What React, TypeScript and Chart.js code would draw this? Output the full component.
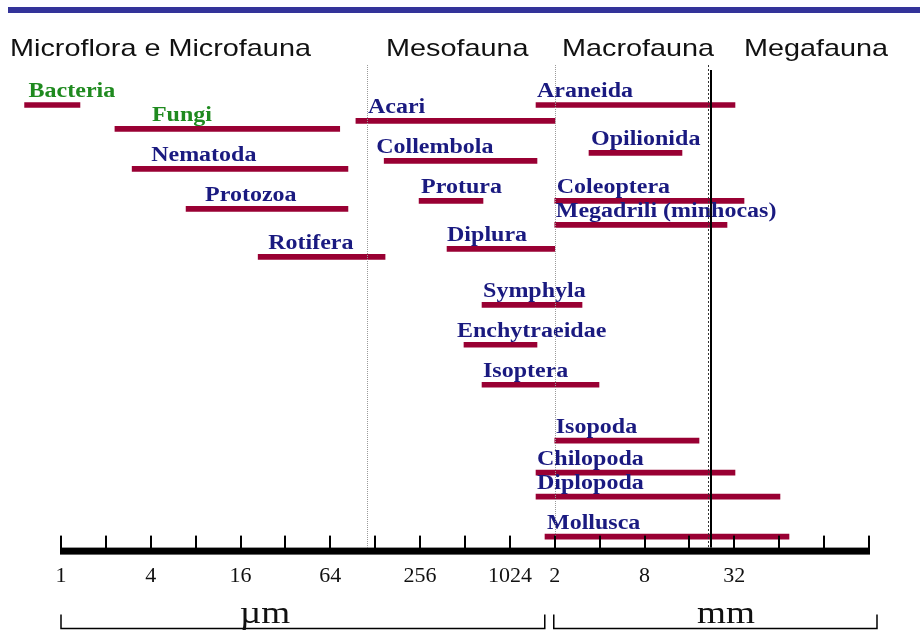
import React, { useEffect, useRef } from 'react';
import { Chart, registerables } from 'chart.js';

Chart.register(...registerables);

// ---------- data ----------
const ORGANISMS = [
  'Bacteria', 'Fungi', 'Nematoda', 'Protozoa', 'Rotifera',
  'Acari', 'Collembola', 'Protura', 'Diplura',
  'Araneida', 'Opilionida', 'Coleoptera', 'Megadrili (minhocas)',
  'Symphyla', 'Enchytraeidae', 'Isoptera',
  'Isopoda', 'Chilopoda', 'Diplopoda', 'Mollusca',
];
// body width range, in µm
const MIN_UM = [0.57, 2.3, 3.0, 6.9, 21, 95, 147, 252, 388, 1533, 3474, 2048, 2048, 666, 504, 666, 2048, 1533, 1533, 1761];
const MAX_UM = [1.34, 74, 84, 84, 149, 2055, 1556, 676, 2048, 33100, 14600, 38050, 29260, 3119, 1556, 4053, 18990, 33100, 66300, 76200];
// vertical slot of each bar (0 = top)
const ROWS = [5, 8, 13, 18, 24, 7, 12, 17, 23, 5, 11, 17, 20, 30, 35, 40, 47, 51, 54, 59];

const ZONE_NAMES = ['Microflora e Microfauna', 'Mesofauna', 'Macrofauna', 'Megafauna'];
const ZONE_LIMITS_UM = [112, 2048, 21800];
const MEGA_LIMIT_UM = 22800;

const TICK_VALUES = [1, 4, 16, 64, 256, 1024, 2048, 8192, 32768];
const TICK_LABELS = ['1', '4', '16', '64', '256', '1024', '2', '8', '32'];
const AXIS_MARKS = [1, 2, 4, 8, 16, 32, 64, 128, 256, 512, 1024, 2048, 4096, 8192, 16384, 32768, 65536, 131072, 262144];
const UNIT_LABELS = ['µm', 'mm'];

// ---------- layout / style ----------
const LABEL_DX = [4, 37, 19, 19, 10, 12, -8, 2, 0, 1, 2, 2, 1, 1, -7, 1, 1, 1, 1, 2];
const GREEN = '#1f8a1f';
const NAVY = '#1a1a80';
const LABEL_COLORS = ORGANISMS.map((_, i) => (i < 2 ? GREEN : NAVY));
const BAR_COLOR = '#990033';
const HEADER_X = [10, 386, 562, 744];
const UNIT_X = [265, 726];
const STRETCH = 1.2;

function stretchedText(
  ctx: CanvasRenderingContext2D,
  text: string,
  x: number,
  y: number,
  font: string,
  color: string,
  align: 'left' | 'center' = 'left',
  sx: number = STRETCH
) {
  ctx.save();
  ctx.font = font;
  ctx.fillStyle = color;
  ctx.textBaseline = 'alphabetic';
  ctx.textAlign = 'left';
  ctx.translate(x, y);
  ctx.scale(sx, 1);
  let dx = 0;
  if (align === 'center') dx = -ctx.measureText(text).width / 2;
  ctx.fillText(text, dx, 0);
  ctx.restore();
}

const decorPlugin = {
  id: 'decor',
  afterDatasetsDraw(chart: any) {
    const ctx: CanvasRenderingContext2D = chart.ctx;
    const meta = chart.getDatasetMeta(0);
    meta.data.forEach((el: any, i: number) => {
      const left = Math.min(el.base, el.x);
      stretchedText(ctx, ORGANISMS[i], left + LABEL_DX[i], el.y - 8, 'bold 20px "Liberation Serif"', LABEL_COLORS[i]);
    });

    const xs = chart.scales.x;
    const { top, bottom } = chart.chartArea;
    const axisTop = bottom - 3;
    ZONE_LIMITS_UM.forEach((v, k) => {
      const px = Math.round(xs.getPixelForValue(v)) + 0.5;
      ctx.save();
      ctx.strokeStyle = k === 2 ? '#333333' : '#9a9a9a';
      ctx.lineWidth = 1;
      ctx.setLineDash(k === 2 ? [2, 2] : [1, 1]);
      ctx.beginPath();
      ctx.moveTo(px, top);
      ctx.lineTo(px, axisTop);
      ctx.stroke();
      ctx.restore();
    });
    const mx = Math.round(xs.getPixelForValue(MEGA_LIMIT_UM));
    ctx.save();
    ctx.fillStyle = '#000';
    ctx.fillRect(mx - 1, top + 5, 2, axisTop - top - 5);
    ctx.restore();
  },
  afterDraw(chart: any) {
    const ctx: CanvasRenderingContext2D = chart.ctx;
    const xs = chart.scales.x;
    const { bottom } = chart.chartArea;

    // top rule
    ctx.save();
    ctx.fillStyle = '#333399';
    ctx.fillRect(8, 7, 912, 6);
    ctx.restore();

    // zone headers
    ZONE_NAMES.forEach((name, k) => {
      stretchedText(ctx, name, HEADER_X[k], 56, '24px "Liberation Sans"', '#111');
    });

    // axis bar
    const x0 = xs.getPixelForValue(AXIS_MARKS[0]);
    const x1 = xs.getPixelForValue(AXIS_MARKS[AXIS_MARKS.length - 1]);
    ctx.save();
    ctx.fillStyle = '#000';
    ctx.fillRect(x0 - 1, bottom - 3, x1 - x0 + 2, 7);
    AXIS_MARKS.forEach((v) => {
      const px = Math.round(xs.getPixelForValue(v));
      ctx.fillRect(px - 1, bottom - 15, 2, 13);
    });

    // unit brackets
    const b2 = xs.getPixelForValue(2048);
    const brackets = [
      [x0, b2 - 10],
      [b2 - 1, x1 + 8],
    ];
    ctx.strokeStyle = '#000';
    ctx.lineWidth = 1.5;
    brackets.forEach(([a, b]) => {
      ctx.beginPath();
      ctx.moveTo(a, bottom + 64);
      ctx.lineTo(a, bottom + 78);
      ctx.lineTo(b, bottom + 78);
      ctx.lineTo(b, bottom + 64);
      ctx.stroke();
    });
    ctx.restore();

    UNIT_LABELS.forEach((u, k) => {
      stretchedText(ctx, u, UNIT_X[k], bottom + 72, '31px "Liberation Serif"', '#111', 'center');
    });
  },
};

export default function App() {
  const ref = useRef<HTMLCanvasElement | null>(null);

  useEffect(() => {
    document.body.style.margin = '0';
    const canvas = ref.current;
    if (!canvas) return;
    const chart = new Chart(canvas, {
      type: 'bar',
      data: {
        datasets: [
          {
            label: 'Tamanho',
            data: ORGANISMS.map((_, i) => ({ x: [MIN_UM[i], MAX_UM[i]], y: ROWS[i] })) as any,
            backgroundColor: BAR_COLOR,
            borderWidth: 0,
            barThickness: 5,
          },
        ],
      },
      options: {
        indexAxis: 'y',
        responsive: false,
        animation: false,
        devicePixelRatio: 1,
        layout: { padding: { left: 8, right: 8, top: 65, bottom: 31 } },
        plugins: {
          legend: { display: false },
          tooltip: { enabled: false },
          title: { display: false },
        },
        scales: {
          x: {
            type: 'logarithmic',
            position: 'bottom',
            min: Math.pow(2, -1.1807),
            max: Math.pow(2, 18.958),
            border: { display: false },
            grid: { display: false, drawTicks: false },
            afterBuildTicks: (scale: any) => {
              scale.ticks = TICK_VALUES.map((v) => ({ value: v }));
            },
            ticks: {
              autoSkip: false,
              maxRotation: 0,
              padding: 12,
              color: '#111',
              font: { family: '"Liberation Serif"', size: 22 },
              callback: (_v: any, i: number) => TICK_LABELS[i],
            },
          },
          y: {
            type: 'linear',
            reverse: true,
            offset: false,
            min: 0,
            max: 60.75,
            display: false,
          },
        },
      },
      plugins: [decorPlugin],
    } as any);
    return () => chart.destroy();
  }, []);

  return (
    <div style={{ width: 920, height: 632, background: '#fff' }}>
      <canvas ref={ref} width={920} height={632} style={{ display: 'block' }} />
    </div>
  );
}
